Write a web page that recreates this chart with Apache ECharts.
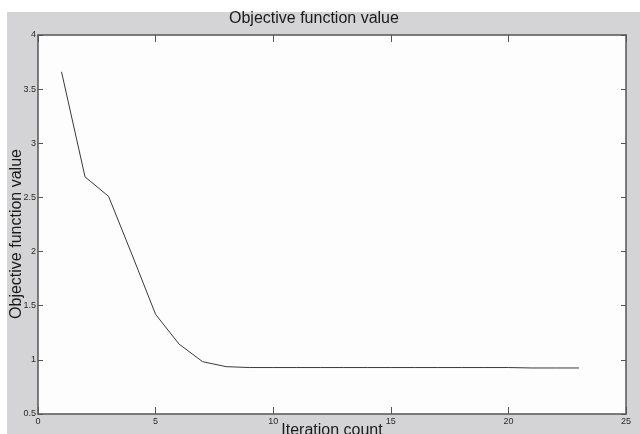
<!DOCTYPE html>
<html>
<head>
<meta charset="utf-8">
<script src="https://cdn.jsdelivr.net/npm/echarts@6/dist/echarts.min.js"></script>
<style>
html,body{margin:0;padding:0;background:#ffffff;}
#chart{width:640px;height:434px;}
</style>
</head>
<body>
<div id="chart"></div>
<script>
const iterations = [1,2,3,4,5,6,7,8,9,10,11,12,13,14,15,16,17,18,19,20,21,22,23];
const objectiveValues = [3.66,2.69,2.51,1.97,1.42,1.145,0.983,0.937,0.929,0.929,0.929,0.929,0.929,0.929,0.929,0.929,0.929,0.929,0.929,0.929,0.925,0.925,0.925];
const titleText = 'Objective function value';
const xAxisName = 'Iteration count';
const yAxisName = 'Objective function value';

const chart = echarts.init(document.getElementById('chart'), null, {renderer:'canvas'});
const tickFont = {fontFamily:'"Liberation Sans Narrow","Arial Narrow","Liberation Sans",sans-serif', fontSize:9, color:'#2a2a2a'};
const axisLineStyle = {color:'#555555', width:1.5};
chart.setOption({
  animation:false,
  backgroundColor:'#ffffff',
  title:{
    text:titleText, left:229, top:11, padding:0,
    textStyle:{fontFamily:'"Liberation Sans",Arial,sans-serif', fontSize:16, fontWeight:'normal', color:'#1a1a1a'}
  },
  graphic:[
    {type:'rect', z:-100, shape:{x:7,y:12,width:633,height:422}, style:{fill:'#d4d4d6'}, silent:true},
    {type:'text', x:17, y:234, rotation:Math.PI/2,
     style:{text:yAxisName, fontFamily:'"Liberation Sans",Arial,sans-serif', fontSize:16, fill:'#1a1a1a', align:'center', verticalAlign:'middle'}}
  ],
  grid:{left:38, top:35, right:14, bottom:20, containLabel:false, outerBoundsMode:'none', show:true, backgroundColor:'#fdfdfd', borderWidth:0},
  xAxis:[
    {type:'value', min:0, max:25, interval:5, position:'bottom',
     name:xAxisName, nameLocation:'middle', nameGap:9, nameMoveOverlap:false,
     nameTextStyle:{fontFamily:'"Liberation Sans",Arial,sans-serif', fontSize:16, color:'#1a1a1a', verticalAlign:'top'},
     axisLine:{show:true, onZero:false, lineStyle:axisLineStyle},
     axisTick:{show:true, inside:true, length:7, lineStyle:{color:'#555555'}},
     axisLabel:Object.assign({margin:3}, tickFont),
     splitLine:{show:false}},
    {type:'value', min:0, max:25, interval:5, position:'top',
     axisLine:{show:true, onZero:false, lineStyle:axisLineStyle},
     axisTick:{show:true, inside:true, length:7, lineStyle:{color:'#555555'}},
     axisLabel:{show:false}, splitLine:{show:false}}
  ],
  yAxis:[
    {type:'value', min:0.5, max:4, interval:0.5, position:'left',
     axisLine:{show:true, onZero:false, lineStyle:axisLineStyle},
     axisTick:{show:true, inside:true, length:5, lineStyle:{color:'#555555'}},
     axisLabel:Object.assign({margin:2}, tickFont),
     splitLine:{show:false}},
    {type:'value', min:0.5, max:4, interval:0.5, position:'right',
     axisLine:{show:true, onZero:false, lineStyle:axisLineStyle},
     axisTick:{show:true, inside:true, length:5, lineStyle:{color:'#555555'}},
     axisLabel:{show:false}, splitLine:{show:false}}
  ],
  series:[{
    type:'line',
    data:iterations.map((x,i)=>[x, objectiveValues[i]]),
    showSymbol:false, symbol:'none',
    lineStyle:{color:'#3a3a3a', width:1},
    xAxisIndex:0, yAxisIndex:0
  }]
});
</script>
</body>
</html>
